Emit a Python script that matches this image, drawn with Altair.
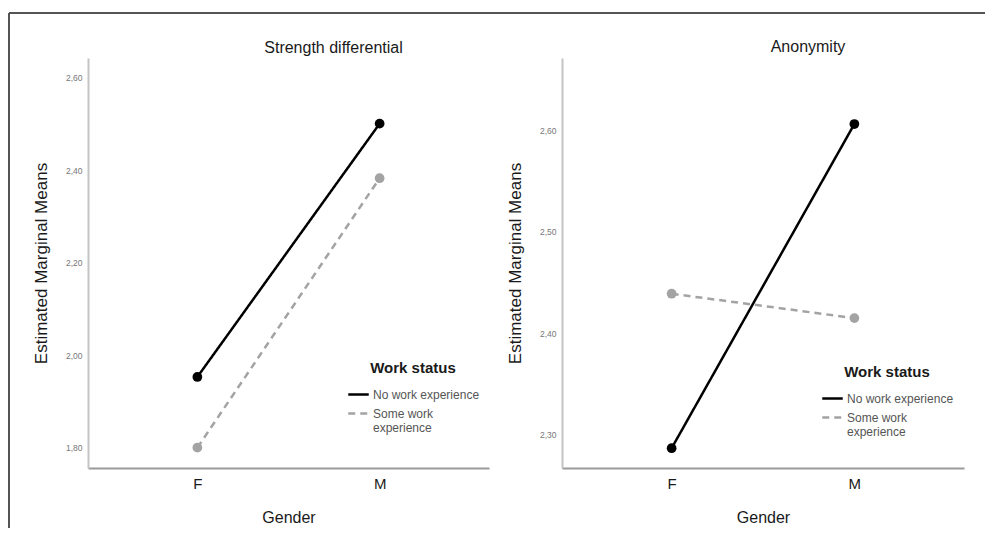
import altair as alt
import pandas as pd

gender = ["F", "M"]
status = ["No work experience", "Some work experience"]

strength_no = [1.953, 2.501]
strength_some = [1.800, 2.383]
anon_no = [2.287, 2.606]
anon_some = [2.439, 2.415]

strength_ticks = [1.80, 2.00, 2.20, 2.40, 2.60]
anon_ticks = [2.30, 2.40, 2.50, 2.60]


def make_df(no_vals, some_vals):
    rows = []
    for g, v in zip(gender, no_vals):
        rows.append({"Gender": g, "Mean": v, "Work status": status[0]})
    for g, v in zip(gender, some_vals):
        rows.append({"Gender": g, "Mean": v, "Work status": status[1]})
    return pd.DataFrame(rows)


FONT = "Liberation Sans"
colors = ["#000000", "#a3a3a3"]


def legend(ly):
    return alt.Legend(
        orient="none",
        legendX=259,
        legendY=ly,
        title="Work status",
        titleFontSize=15,
        titleFontWeight="bold",
        titleColor="#1a1a1a",
        titleAnchor="middle",
        titlePadding=7,
        labelFontSize=12,
        labelColor="#555555",
        labelLimit=300,
        labelOffset=3,
        symbolType="stroke",
        symbolSize=420,
        symbolStrokeWidth=2.5,
        rowPadding=1,
        labelExpr="datum.label == 'Some work experience' ? ['Some work', 'experience'] : datum.label",
    )


def panel(df, title, ydomain, yticks, width, ly, frame=False):
    x = alt.X(
        "Gender:N",
        sort=gender,
        scale=alt.Scale(type="point", padding=0.6),
        axis=alt.Axis(
            title="Gender",
            labelAngle=0,
            labelFontSize=15,
            labelColor="#1a1a1a",
            labelPadding=8,
            ticks=False,
            domainColor="#9a9a9a",
            domainWidth=2,
            titleFontSize=16,
            titleFontWeight="normal",
            titleColor="#1a1a1a",
            titlePadding=18,
            grid=False,
        ),
    )
    y = alt.Y(
        "Mean:Q",
        scale=alt.Scale(domain=ydomain, nice=False, zero=False),
        axis=alt.Axis(
            title="Estimated Marginal Means",
            values=yticks,
            labelExpr="replace(format(datum.value, '.2f'), '.', ',')",
            labelFontSize=8.5,
            labelColor="#777777",
            labelPadding=6,
            ticks=False,
            domainColor="#c4c4c4",
            domainWidth=2,
            titleFontSize=17,
            titleFontWeight="normal",
            titleColor="#1a1a1a",
            titlePadding=15,
            grid=False,
        ),
    )
    color_scale = alt.Scale(domain=status, range=colors)
    lines = alt.Chart(df).mark_line(strokeWidth=2.5).encode(
        x=x,
        y=y,
        color=alt.Color("Work status:N", scale=color_scale, legend=legend(ly)),
        strokeDash=alt.StrokeDash(
            "Work status:N",
            scale=alt.Scale(domain=status, range=[[1, 0], [7, 5]]),
            legend=legend(ly),
        ),
    )
    points = alt.Chart(df).mark_point(filled=True, size=95, opacity=1).encode(
        x=x,
        y=y,
        color=alt.Color("Work status:N", scale=color_scale, legend=None),
    )
    layers = [lines, points]
    title_dy = 0
    if frame:
        one = pd.DataFrame({"k": [0]})
        frame_left = alt.Chart(one).mark_rule(color="#555555", strokeWidth=2).encode(
            x=alt.value(-79), y=alt.value(-45), y2=alt.value(470)
        )
        frame_top = alt.Chart(one).mark_rule(color="#555555", strokeWidth=2).encode(
            x=alt.value(-79), x2=alt.value(897), y=alt.value(-45)
        )
        layers += [frame_left, frame_top]
        title_dy = 47
    return alt.layer(*layers).properties(
        width=width,
        height=410,
        title=alt.TitleParams(
            title,
            fontSize=16,
            fontWeight="normal",
            color="#1a1a1a",
            dx=45,
            dy=title_dy,
            offset=3,
            font=FONT,
        ),
    )


left = panel(make_df(strength_no, strength_some), "Strength differential",
             [1.756, 2.643], strength_ticks, 401, 303, frame=True)
right = panel(make_df(anon_no, anon_some), "Anonymity",
              [2.2675, 2.671], anon_ticks, 402, 307)

chart = (
    alt.hconcat(left, right, spacing=73, bounds="flush")
    .resolve_scale(y="independent", color="independent", strokeDash="independent")
    .resolve_legend(color="independent", strokeDash="independent")
    .properties(padding={"left": 0, "top": 4, "right": 0, "bottom": 0})
    .configure(font=FONT)
    .configure_view(stroke=None)
)

chart.save("out.html", embed_options={"renderer": "svg", "actions": False})
